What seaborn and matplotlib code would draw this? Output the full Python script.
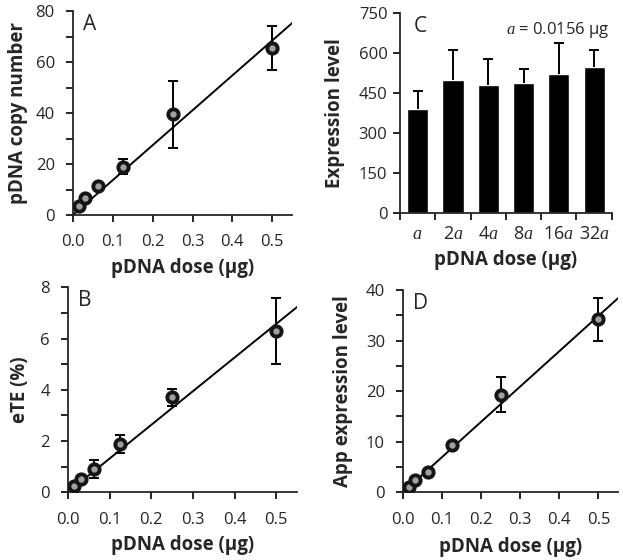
import numpy as np
import pandas as pd
import matplotlib.pyplot as plt
from matplotlib.ticker import MultipleLocator, FixedLocator
import seaborn as sns

# doses (ug)
dose = [0.0156, 0.03125, 0.0625, 0.125, 0.25, 0.5]

# A: pDNA copy number
copy_mean = [3.5, 6.5, 11.5, 19.0, 39.5, 65.5]
copy_err = [1.0, 1.0, 1.0, 3.0, 13.3, 8.5]
copy_slope = 137.0

# B: eTE (%)
ete_mean = [0.25, 0.5, 0.9, 1.9, 3.7, 6.3]
ete_err = [0.1, 0.15, 0.35, 0.35, 0.32, 1.3]
ete_slope = 13.15

# C: expression level per dose multiple
dose_labels = [r'$a$', r'$2a$', r'$4a$', r'$8a$', r'$16a$', r'$32a$']
expr_mean = [390, 500, 481, 488, 519, 547]
expr_err = [68, 109, 95, 50, 117, 62]

# D: app expression level
app_mean = [1.0, 2.4, 4.1, 9.3, 19.3, 34.2]
app_err = [0.3, 0.3, 0.4, 0.5, 3.5, 4.3]
app_slope = 69.8

sns.set_style('ticks')
plt.rcParams['font.family'] = ['Open Sans', 'DejaVu Sans']
plt.rcParams['mathtext.fontset'] = 'custom'
plt.rcParams['mathtext.rm'] = 'Open Sans'
plt.rcParams['mathtext.it'] = 'Liberation Serif:italic'
plt.rcParams['axes.linewidth'] = 1.3

fig = plt.figure(figsize=(6.23, 5.6), dpi=100)
axA = fig.add_axes([0.117, 0.616, 0.352, 0.364])
axC = fig.add_axes([0.642, 0.620, 0.340, 0.357])
axB = fig.add_axes([0.109, 0.121, 0.368, 0.366])
axD = fig.add_axes([0.647, 0.121, 0.345, 0.361])

TICK = 12
LAB = 13.5


def style_axes(ax, ypad=8):
    sns.despine(ax=ax)
    ax.tick_params(axis='both', which='both', direction='out', length=5,
                   width=1.2, labelsize=TICK, color='black')
    ax.tick_params(axis='x', pad=9)
    ax.tick_params(axis='y', pad=ypad)


def scatter_panel(ax, y, err, slope, ymax, ymajor, ylabel, letter):
    xfit = np.array([0.0, 0.55])
    sns.lineplot(x=xfit, y=slope * xfit, ax=ax, color='black', lw=1.4)
    ax.errorbar(dose, y, yerr=err, fmt='none', ecolor='black', elinewidth=1.4,
                capsize=3.5, capthick=1.4, zorder=3)
    df = pd.DataFrame({'dose': dose, 'y': y})
    sns.scatterplot(data=df, x='dose', y='y', ax=ax, s=55, color='#a0a0a0',
                    edgecolor='#151515', linewidth=2.8, zorder=4)
    ax.set_xlim(0, 0.55)
    ax.set_ylim(0, ymax)
    ax.xaxis.set_major_locator(FixedLocator([0, 0.1, 0.2, 0.3, 0.4, 0.5]))
    ax.set_xticklabels(['0.0', '0.1', '0.2', '0.3', '0.4', '0.5'])
    ax.yaxis.set_major_locator(MultipleLocator(ymajor))
    ax.yaxis.set_minor_locator(MultipleLocator(ymajor / 2))
    ax.set_xlabel('pDNA dose (µg)', fontsize=LAB, fontweight='bold', va='center')
    ax.set_ylabel(ylabel, fontsize=LAB, fontweight='bold', va='center')
    ax.text(0.045, 0.985, letter, transform=ax.transAxes, fontsize=15,
            va='top', ha='left')
    style_axes(ax)


scatter_panel(axA, copy_mean, copy_err, copy_slope, 80, 20, 'pDNA copy number', 'A')
scatter_panel(axB, ete_mean, ete_err, ete_slope, 8, 2, 'eTE (%)', 'B')
scatter_panel(axD, app_mean, app_err, app_slope, 40, 10, 'App expression level', 'D')

axA.yaxis.set_label_coords(-0.251, 0.5)
axA.xaxis.set_label_coords(0.5, -0.26)
axB.yaxis.set_label_coords(-0.21, 0.5)
axB.xaxis.set_label_coords(0.5, -0.259)
axD.yaxis.set_label_coords(-0.279, 0.5)
axD.xaxis.set_label_coords(0.5, -0.272)

# C: bar chart, upper error bars only
dfc = pd.DataFrame({'dose': dose_labels, 'expr': expr_mean})
sns.barplot(data=dfc, x='dose', y='expr', ax=axC, color='black',
            width=0.6, errorbar=None, saturation=1)
xpos = np.arange(len(expr_mean))
tops = np.array(expr_mean) + np.array(expr_err)
axC.vlines(xpos, expr_mean, tops, color='black', lw=1.4)
axC.plot(xpos, tops, ls='none', marker='_', ms=7, mew=1.4, color='black')
axC.set_xlim(-0.5, 5.5)
axC.set_ylim(0, 750)
axC.yaxis.set_major_locator(MultipleLocator(150))
axC.xaxis.set_minor_locator(FixedLocator(np.arange(-0.5, 6, 1)))
axC.set_xlabel('pDNA dose (µg)', fontsize=LAB, fontweight='bold', va='center')
axC.set_ylabel('Expression level', fontsize=LAB, fontweight='bold', va='center')
style_axes(axC, ypad=4)
axC.tick_params(axis='x', which='major', length=0, pad=9, labelsize=13)
axC.yaxis.set_label_coords(-0.307, 0.5)
axC.xaxis.set_label_coords(0.5, -0.235)
axC.text(0.065, 0.985, 'C', transform=axC.transAxes, fontsize=15, va='top', ha='left')
axC.text(0.99, 0.965, r'$a$ = 0.0156 µg', transform=axC.transAxes, fontsize=12,
         va='top', ha='right')

fig.savefig('out.png', dpi=100)
